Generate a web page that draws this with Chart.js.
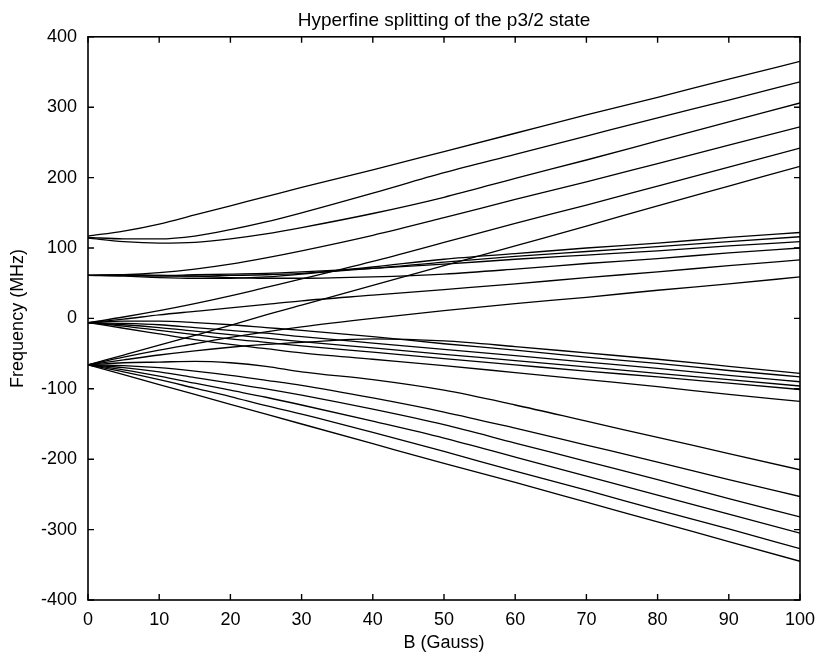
<!DOCTYPE html>
<html>
<head>
<meta charset="utf-8">
<title>Hyperfine splitting of the p3/2 state</title>
<script src="https://cdn.jsdelivr.net/npm/chart.js@4.4.1/dist/chart.umd.min.js"></script>
<style>
	html, body { margin: 0; padding: 0; background: #fff; }
	canvas { display: block; }
</style>
</head>
<body>
<canvas id="chart" width="815" height="657"></canvas>
<script>
const fieldB = [ 0, 5, 10, 15, 20, 25, 30, 40, 50, 60, 70, 80, 90, 100 ];

// Levels ending in the top band (mJ = +3/2), MHz.
const topBand = [
	[ 117, 124, 134, 147, 160, 173, 186, 211, 237, 263, 289, 314, 340, 365 ],
	[ 115, 113, 113, 117, 126, 137, 150, 178, 207, 233, 259, 285, 310, 336 ],
	[ 114, 109, 107, 108, 113, 120, 129, 149, 172, 199, 225, 252, 279, 306 ],
	[ 61, 62, 65, 70, 77, 86, 96, 118, 143, 169, 194, 220, 246, 272 ],
	[ -6, 2, 11, 21, 32, 44, 56, 81, 108, 135, 161, 188, 215, 242 ],
	[ -66, -52, -38, -24, -10, 5, 19, 47, 75, 103, 131, 160, 188, 216 ],
];

// Levels ending in the upper middle band (mJ = +1/2).
const upperMidBand = [
	[ 61, 60, 58, 57, 57, 59, 63, 73, 84, 92, 100, 107, 115, 122 ],
	[ 61, 61, 60, 60, 61, 62, 64, 71, 80, 88, 95, 102, 109, 116 ],
	[ 61, 61, 61, 62, 63, 64, 66, 71, 77, 84, 90, 96, 103, 109 ],
	[ 61, 62, 61, 60, 58, 57, 57, 59, 63, 70, 78, 85, 93, 100 ],
	[ -6, -1, 5, 10, 15, 20, 25, 33, 41, 49, 58, 66, 75, 83 ],
	[ -66, -55, -45, -36, -27, -19, -12, 0, 11, 21, 30, 40, 49, 59 ],
];

// Levels ending in the lower middle band (mJ = -1/2).
const lowerMidBand = [
	[ -66, -59, -52, -46, -41, -37, -34, -29, -32, -40, -49, -58, -68, -78 ],
	[ -6, -4, -4, -6, -9, -13, -17, -26, -36, -45, -55, -64, -74, -83 ],
	[ -6, -7, -9, -13, -17, -21, -26, -35, -44, -53, -62, -71, -81, -90 ],
	[ -6, -9, -13, -18, -23, -28, -33, -42, -51, -60, -69, -78, -87, -96 ],
	[ -6, -11, -17, -23, -29, -34, -39, -48, -57, -66, -75, -83, -92, -101 ],
	[ -6, -14, -22, -30, -37, -43, -49, -58, -67, -77, -87, -97, -108, -118 ],
];

// Levels ending in the bottom band (mJ = -3/2).
const bottomBand = [
	[ -66, -63, -62, -61, -63, -68, -76, -87, -102, -123, -146, -169, -192, -215 ],
	[ -66, -67, -70, -75, -81, -88, -95, -113, -133, -156, -180, -204, -229, -253 ],
	[ -66, -70, -76, -84, -92, -100, -109, -129, -151, -177, -203, -229, -256, -282 ],
	[ -66, -73, -82, -92, -102, -112, -123, -146, -170, -197, -224, -251, -278, -305 ],
	[ -66, -76, -87, -99, -111, -124, -136, -162, -189, -217, -244, -272, -299, -327 ],
	[ -66, -80, -94, -108, -122, -136, -150, -178, -206, -233, -261, -289, -317, -345 ],
];

const xTicks = [ 0, 10, 20, 30, 40, 50, 60, 70, 80, 90, 100 ];
const yTicks = [ -400, -300, -200, -100, 0, 100, 200, 300, 400 ];

( function () {
	'use strict';

	const FONT = { family: '"Liberation Sans", Arial, Helvetica, sans-serif', size: 18 };
	const TICK = 6;

	const levels = [ ...topBand, ...upperMidBand, ...lowerMidBand, ...bottomBand ];

	const datasets = levels.map( ( values ) => ( {
		data: values.map( ( v, i ) => ( { x: fieldB[ i ], y: v } ) ),
		borderColor: '#000',
		borderWidth: 1.3,
		pointRadius: 0,
		cubicInterpolationMode: 'monotone',
		fill: false,
	} ) );

	// MATLAB style: closed box with ticks pointing inwards on all four sides.
	const boxTicks = {
		id: 'boxTicks',
		afterDatasetsDraw( chart ) {
			const { ctx, chartArea: a, scales: { x, y } } = chart;
			ctx.save();
			ctx.strokeStyle = '#000';
			ctx.lineWidth = 1.6;
			ctx.strokeRect( a.left, a.top, a.right - a.left, a.bottom - a.top );
			ctx.lineWidth = 1.4;
			ctx.beginPath();
			xTicks.forEach( ( v ) => {
				const px = x.getPixelForValue( v );
				ctx.moveTo( px, a.bottom );
				ctx.lineTo( px, a.bottom - TICK );
				ctx.moveTo( px, a.top );
				ctx.lineTo( px, a.top + TICK );
			} );
			yTicks.forEach( ( v ) => {
				const py = y.getPixelForValue( v );
				ctx.moveTo( a.left, py );
				ctx.lineTo( a.left + TICK, py );
				ctx.moveTo( a.right, py );
				ctx.lineTo( a.right - TICK, py );
			} );
			ctx.stroke();
			ctx.restore();
		},
	};

	new Chart( document.getElementById( 'chart' ), {
		type: 'line',
		data: { datasets },
		options: {
			responsive: false,
			animation: false,
			devicePixelRatio: 1,
			layout: { padding: { top: 0, right: 15, bottom: 0, left: 0 } },
			plugins: {
				legend: { display: false },
				tooltip: { enabled: false },
				title: {
					display: true,
					fullSize: false,
					text: 'Hyperfine splitting of the p3/2 state',
					color: '#000',
					font: { ...FONT, size: 19, weight: 'normal' },
					padding: { top: 9, bottom: 5 },
				},
			},
			scales: {
				x: {
					type: 'linear',
					min: 0,
					max: 100,
					afterFit: ( scale ) => {
						scale.height = 57;
						scale.paddingLeft = 0;
						scale.paddingRight = 0;
					},
					afterBuildTicks: ( scale ) => { scale.ticks = xTicks.map( ( v ) => ( { value: v } ) ); },
					grid: { display: false, drawTicks: false },
					border: { display: false },
					ticks: { color: '#000', font: FONT, padding: 9, maxRotation: 0 },
					title: { display: true, text: 'B (Gauss)', color: '#000', font: FONT, padding: { top: 0, bottom: 3 } },
				},
				y: {
					type: 'linear',
					min: -400,
					max: 400,
					afterFit: ( scale ) => { scale.width = 88; },
					afterBuildTicks: ( scale ) => { scale.ticks = yTicks.map( ( v ) => ( { value: v } ) ); },
					grid: { display: false, drawTicks: false },
					border: { display: false },
					ticks: { color: '#000', font: FONT, padding: 11 },
					title: { display: true, text: 'Frequency (MHz)', color: '#000', font: FONT, padding: { top: 7, bottom: 0 } },
				},
			},
		},
		plugins: [ boxTicks ],
	} );
} )();
</script>
</body>
</html>
